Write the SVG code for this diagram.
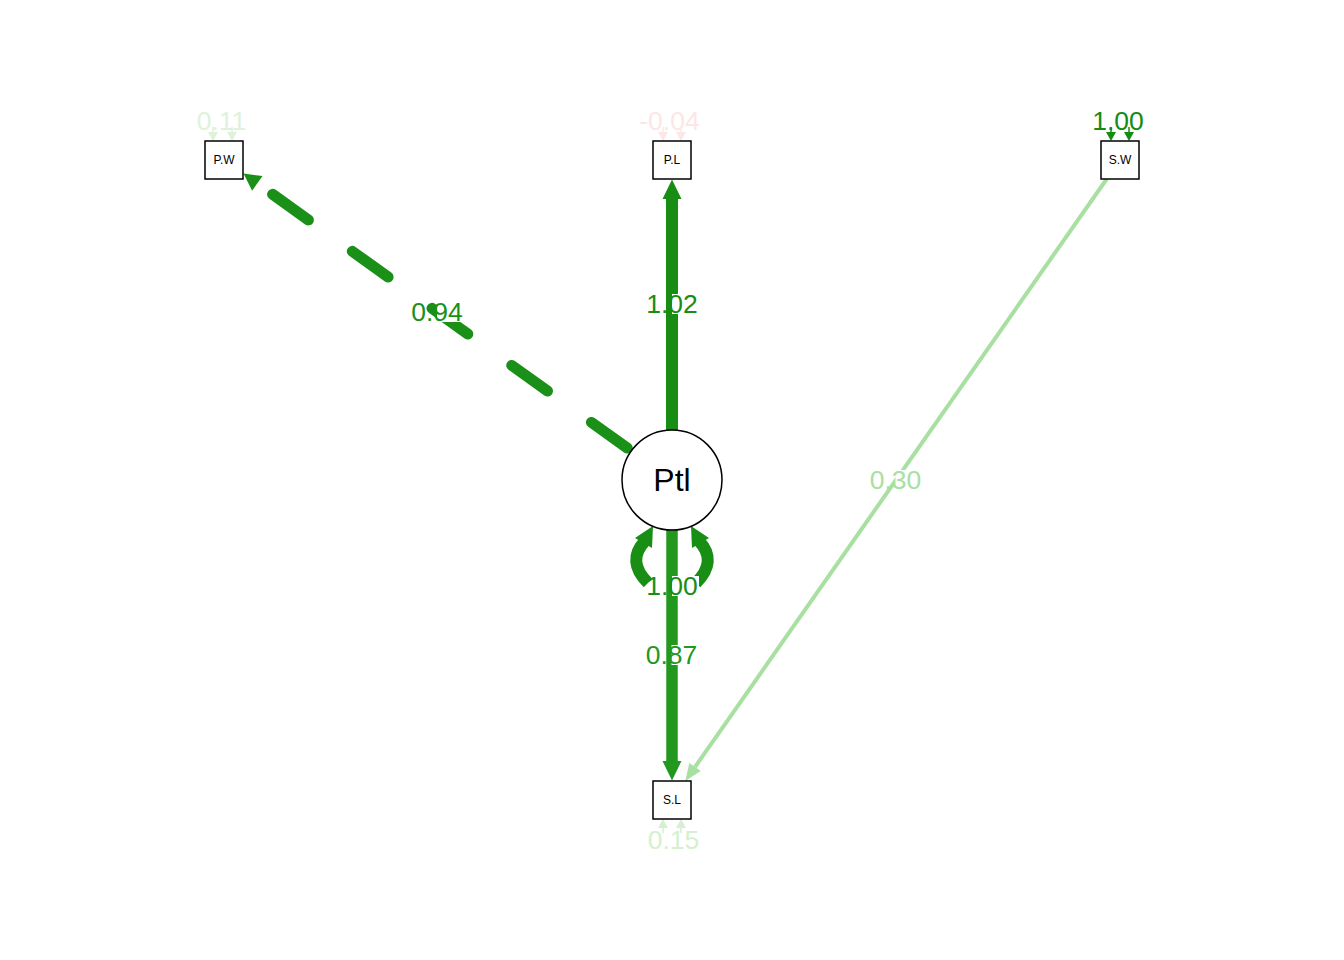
<svg xmlns="http://www.w3.org/2000/svg" width="1344" height="960" viewBox="0 0 1344 960">
<style>
.lbl{font-family:"Liberation Sans",Arial,sans-serif;font-size:26.5px;text-anchor:middle}
.box{fill:#fff;stroke:#000;stroke-width:1.5}
.bt{font-family:"Liberation Sans",Arial,sans-serif;font-size:12px;text-anchor:middle;fill:#000}
.bg{fill:#fff}
</style>
<rect width="1344" height="960" fill="#fff"/>
<g id="connectors">
  <!-- Ptl -> P.W (dashed) -->
  <path d="M627.2,448 L257.3,183.4" fill="none" stroke="#1b9018" stroke-width="11" stroke-linecap="round" stroke-dasharray="44 54"/>
  <polygon points="243.5,173.5 252.1,190.7 262.5,176.1" fill="#1b9018"/>
  <rect class="bg" x="437" y="302" width="27" height="20"/>
  <text class="lbl" x="437" y="321" fill="#1b9018">0.94</text>
  <!-- Ptl -> P.L -->
  <line x1="672" y1="430" x2="672" y2="198" stroke="#178d13" stroke-width="12"/>
  <polygon points="672,179.5 662.5,199 681.5,199" fill="#178d13"/>
  <rect class="bg" x="672" y="294" width="27" height="20"/>
  <text class="lbl" x="672" y="313" fill="#178d13">1.02</text>
  <!-- S.W -> S.L -->
  <line x1="1106.7" y1="179" x2="695" y2="767" stroke="#a8e0a2" stroke-width="4"/>
  <polygon points="685.3,781 700.8,771.1 689.3,763.1" fill="#a8e0a2"/>
  <rect class="bg" x="895.5" y="470" width="27" height="20"/>
  <text class="lbl" x="895.5" y="489" fill="#a8e0a2">0.30</text>
  <!-- Ptl variance loop -->
  <path d="M645,541 Q626,561 648,583" fill="none" stroke="#198e15" stroke-width="12"/>
  <path d="M699,541 Q718,561 696,583" fill="none" stroke="#198e15" stroke-width="12"/>
  <polygon points="653,526 635,538 652,548" fill="#198e15"/>
  <polygon points="691,526 709,538 692,548" fill="#198e15"/>
  <!-- Ptl -> S.L -->
  <line x1="672" y1="530" x2="672" y2="762" stroke="#22981e" stroke-width="11.5"/>
  <polygon points="672,780.5 662.5,761 681.5,761" fill="#22981e"/>
  <rect class="bg" x="672" y="576" width="27" height="20"/>
  <text class="lbl" x="672" y="595" fill="#198e15">1.00</text>
  <rect class="bg" x="671.5" y="645" width="27" height="20"/>
  <text class="lbl" x="671.5" y="664" fill="#22981e">0.87</text>
  <!-- residuals -->
  <g fill="#def2da" stroke="#def2da">
    <line x1="213" y1="127" x2="213" y2="133" stroke-width="1.5"/>
    <line x1="232" y1="127" x2="232" y2="133" stroke-width="1.5"/>
    <polygon points="213,141 208,132 218,132" stroke="none"/>
    <polygon points="232,141 227,132 237,132" stroke="none"/>
  </g>
  <text class="lbl" x="221.5" y="130" fill="#def2da">0.11</text>
  <g fill="#fce6e6" stroke="#fce6e6">
    <line x1="663" y1="127" x2="663" y2="133" stroke-width="1.5"/>
    <line x1="681" y1="127" x2="681" y2="133" stroke-width="1.5"/>
    <polygon points="663,141 658,132 668,132" stroke="none"/>
    <polygon points="681,141 676,132 686,132" stroke="none"/>
  </g>
  <text class="lbl" x="669.5" y="130" fill="#fce6e6">-0.04</text>
  <g fill="#148b11" stroke="#148b11">
    <line x1="1111" y1="127" x2="1111" y2="133" stroke-width="1.5"/>
    <line x1="1129" y1="127" x2="1129" y2="133" stroke-width="1.5"/>
    <polygon points="1111,141 1106,132 1116,132" stroke="none"/>
    <polygon points="1129,141 1124,132 1134,132" stroke="none"/>
  </g>
  <text class="lbl" x="1118" y="130" fill="#148b11">1.00</text>
  <g fill="#d5efd1" stroke="#d5efd1">
    <line x1="663" y1="827" x2="663" y2="833" stroke-width="1.5"/>
    <line x1="681" y1="827" x2="681" y2="833" stroke-width="1.5"/>
    <polygon points="663,819 658,828 668,828" stroke="none"/>
    <polygon points="681,819 676,828 686,828" stroke="none"/>
  </g>
  <text class="lbl" x="673.5" y="848.5" fill="#d5efd1">0.15</text>
</g>
<g id="node-PW"><rect class="box" x="205" y="141" width="38" height="38"/><text class="bt" x="224" y="164">P.W</text></g>
<g id="node-PL"><rect class="box" x="653" y="141" width="38" height="38"/><text class="bt" x="672" y="164">P.L</text></g>
<g id="node-SW"><rect class="box" x="1101" y="141" width="38" height="38"/><text class="bt" x="1120" y="164">S.W</text></g>
<g id="node-SL"><rect class="box" x="653" y="781" width="38" height="38"/><text class="bt" x="672" y="804">S.L</text></g>
<g id="node-Ptl"><circle cx="672" cy="480" r="50" fill="#fff" stroke="#000" stroke-width="1.5"/><text x="672" y="491" font-family="Liberation Sans, Arial, sans-serif" font-size="32" text-anchor="middle">Ptl</text></g>
</svg>
